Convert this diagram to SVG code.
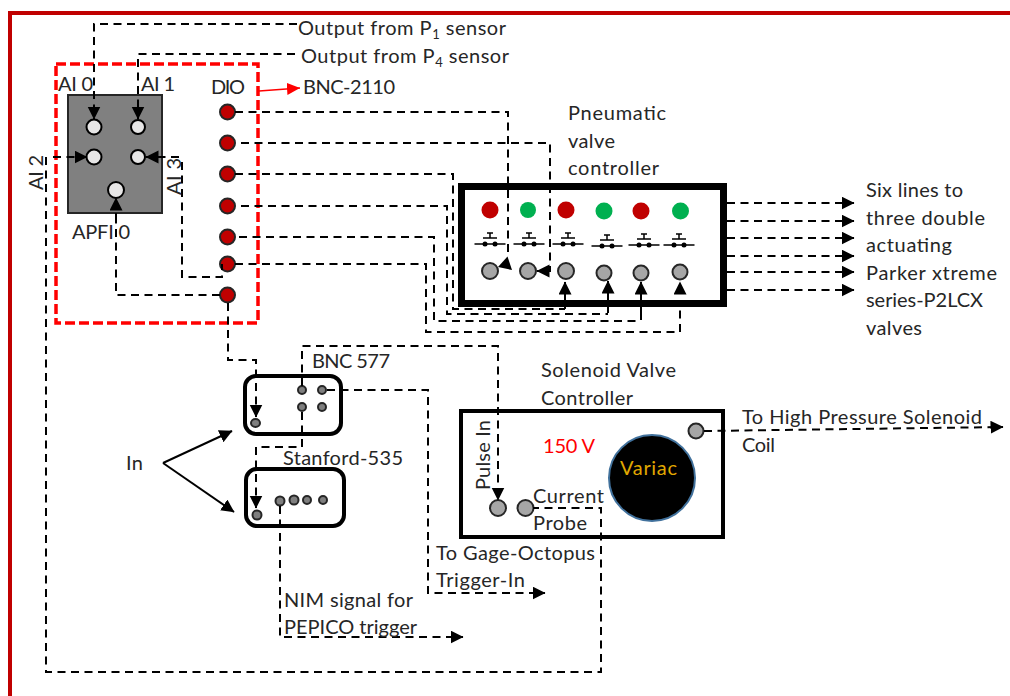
<svg xmlns="http://www.w3.org/2000/svg" width="1010" height="696" viewBox="0 0 1010 696">
<style>
text{font-family:Lato,"Liberation Sans",sans-serif;font-size:20px;fill:#262626}
.c{fill:none;stroke:#000;stroke-width:2;stroke-dasharray:8 5.500}
.a{marker-end:url(#ah)}
.s{fill:none;stroke:#000;stroke-width:2}
.dio{fill:#c00000;stroke:#262626;stroke-width:2}
.pin{fill:#e7e6e6;stroke:#000;stroke-width:2}
.gp{fill:#a6a6a6;stroke:#262626;stroke-width:2}
.sp{fill:#7f7f7f;stroke:#262626;stroke-width:2}
.led1{fill:#c00000}.led2{fill:#00b050}
.box{fill:#fff;stroke:#000}
.sw{fill:none;stroke:#000;stroke-width:1.500}
</style>
<defs>
<marker id="ah" markerUnits="userSpaceOnUse" markerWidth="14" markerHeight="14" refX="12.500" refY="6.500" orient="auto"><path d="M0 0L13 6.500L0 13Z" fill="#000"/></marker>
<marker id="ar" markerUnits="userSpaceOnUse" markerWidth="14" markerHeight="14" refX="13" refY="6" orient="auto"><path d="M0 0L13 6L0 12Z" fill="#f00"/></marker>
<g id="switch"><path class="sw" d="M-15.500 0H15.500M-7 -6H7M-3 -11H3M0 -11V-6"/><circle cx="-5" cy="0" r="2.500"/><circle cx="5" cy="0" r="2.500"/></g>
</defs>
<rect width="1010" height="696" fill="#fff"/>
<path id="border" d="M10 696V13H1010" fill="none" stroke="#c00000" stroke-width="4"/>

<g id="ni-box">
<rect x="68" y="95" width="94" height="118" fill="#808080" stroke="#262626" stroke-width="2"/>
<circle class="pin" cx="94" cy="127" r="7.500"/><circle class="pin" cx="138" cy="127" r="7"/>
<circle class="pin" cx="94" cy="157" r="7.500"/><circle class="pin" cx="138" cy="157" r="7"/>
<circle class="pin" cx="116" cy="190" r="8"/>
</g>
<g id="dio">
<circle class="dio" cx="227.500" cy="112" r="7.500"/><circle class="dio" cx="227.500" cy="143" r="7.500"/>
<circle class="dio" cx="227.500" cy="174" r="7.500"/><circle class="dio" cx="227.500" cy="206" r="7.500"/>
<circle class="dio" cx="227.500" cy="237" r="7.500"/><circle class="dio" cx="227.500" cy="264" r="7.500"/>
<circle class="dio" cx="227.500" cy="295" r="7.500"/>
</g>
<g id="bnc-2110"><rect x="56" y="64" width="202" height="259" fill="none" stroke="#f00" stroke-width="3.500" stroke-dasharray="10 4"/></g>

<g id="pneumatic-controller">
<rect class="box" x="461.500" y="186.500" width="262" height="117" stroke-width="7"/>
<circle class="led1" cx="490" cy="210" r="8.500"/><circle class="led2" cx="528" cy="210" r="8"/>
<circle class="led1" cx="566" cy="210" r="8.500"/><circle class="led2" cx="604" cy="211" r="8.500"/>
<circle class="led1" cx="641" cy="211" r="8.500"/><circle class="led2" cx="680.500" cy="211" r="8.500"/>
<use href="#switch" x="490" y="244"/><use href="#switch" x="529" y="244"/><use href="#switch" x="568" y="244"/>
<use href="#switch" x="607" y="246"/><use href="#switch" x="644" y="245"/><use href="#switch" x="679" y="245"/>
<circle class="gp" cx="490" cy="271" r="8"/><circle class="gp" cx="528" cy="271" r="8"/><circle class="gp" cx="566" cy="271" r="8"/>
<circle class="gp" cx="604" cy="273" r="7.500"/><circle class="gp" cx="641" cy="273" r="7.500"/><circle class="gp" cx="680" cy="272" r="7.500"/>
</g>
<g id="bnc-577">
<rect class="box" x="245" y="376" width="96" height="58" rx="11" stroke-width="4"/>
<circle class="sp" cx="302" cy="390" r="4"/><circle class="sp" cx="322" cy="390" r="4"/>
<circle class="sp" cx="302" cy="407" r="4"/><circle class="sp" cx="322" cy="407" r="4"/>
<ellipse class="sp" cx="255.500" cy="423" rx="4.500" ry="4"/>
</g>
<g id="stanford-535">
<rect class="box" x="246" y="469" width="98" height="57" rx="11" stroke-width="4"/>
<circle class="sp" cx="280" cy="501" r="4.500"/><circle class="sp" cx="294" cy="500" r="4.500"/>
<circle class="sp" cx="307" cy="500" r="4"/><circle class="sp" cx="323" cy="500" r="4"/>
<circle class="sp" cx="257" cy="515" r="4.500"/>
</g>
<g id="solenoid-controller">
<rect class="box" x="461" y="411" width="262" height="126" stroke-width="4"/>
<circle cx="652" cy="478" r="43" fill="#000" stroke="#41719c" stroke-width="2"/>
<circle class="gp" cx="498" cy="508" r="8"/><circle class="gp" cx="525.500" cy="508" r="8"/><circle class="gp" cx="696" cy="431" r="7.500"/>
</g>

<g id="connectors">
<path class="c a" d="M297 24H94V119"/>
<path class="c a" d="M295 54H138V119"/>
<path class="c a" d="M53 157H87"/>
<path class="c a" d="M179 157H146"/>
<path class="c a" d="M116 221V198"/>
<path class="c" d="M46 157V672H601V508H533"/>
<path class="c" d="M182 162V277H222V264"/>
<path class="c" d="M220 295H116V221"/>
<path class="c a" d="M228 303V360H256V417"/>
<path class="c" d="M235 112H508V256"/>
<path d="M507.500 256.500L512 270L498 267Z" fill="#000"/>
<path class="c a" d="M241 143H550V271H537"/>
<path class="c" d="M235 174H453V309H565"/>
<path class="c" d="M241 206H447V314H608"/>
<path class="c" d="M239 237H434V321H641"/>
<path class="c" d="M235 264H426V332H680V300"/>
<path class="s a" d="M565 309V282"/>
<path class="s a" d="M608 313V281"/>
<path class="s a" d="M641 320V282"/>
<path class="a" d="M680 298V282" fill="none" stroke="#000" stroke-width="0"/>
<path class="c a" d="M727 203H854"/>
<path class="c a" d="M727 221H854"/>
<path class="c a" d="M727 238H854"/>
<path class="c a" d="M727 256H854"/>
<path class="c a" d="M727 272H854"/>
<path class="c a" d="M727 290H854"/>
<path class="c a" d="M302 386V346H498V500"/>
<path class="c a" d="M302 412V447H256V508"/>
<path class="c a" d="M327 390H428V593H545"/>
<path class="c a" d="M280 506V637H463"/>
<path class="c a" d="M704 431L1003 427"/>
<path class="s a" d="M163 463L232 431"/>
<path class="s a" d="M163 463L234 512"/>
<path d="M259 91L300 88" stroke="#f00" stroke-width="1.500" fill="none" marker-end="url(#ar)"/>
</g>

<g id="labels">
<text x="298" y="35" letter-spacing=".500">Output from P<tspan font-size="13" dy="4">1</tspan><tspan dy="-4"> sensor</tspan></text>
<text x="301" y="63" letter-spacing=".500">Output from P<tspan font-size="13" dy="4">4</tspan><tspan dy="-4"> sensor</tspan></text>
<text x="58" y="91" textLength="35">AI 0</text><text x="141" y="91" textLength="34">AI 1</text>
<text x="211" y="94" textLength="34">DIO</text><text x="303" y="94" textLength="92">BNC-2110</text>
<text x="72" y="239" textLength="58">APFI 0</text>
<text transform="translate(43 190) rotate(-90)" textLength="35">AI 2</text>
<text transform="translate(181 195) rotate(-90)" textLength="37">AI 3</text>
<text x="568" y="120" textLength="98">Pneumatic</text><text x="568" y="148" textLength="47">valve</text><text x="568" y="175" textLength="91">controller</text>
<text x="866" y="197" textLength="97">Six lines to</text><text x="866" y="225" textLength="119">three double</text><text x="866" y="252" textLength="86">actuating</text>
<text x="866" y="280" textLength="131">Parker xtreme</text><text x="866" y="307" textLength="117">series-P2LCX</text><text x="866" y="335" textLength="56">valves</text>
<text x="312" y="368" textLength="78">BNC 577</text><text x="283" y="465" textLength="120">Stanford-535</text><text x="126" y="470" textLength="17">In</text>
<text x="541" y="377" textLength="135">Solenoid Valve</text><text x="541" y="405" textLength="92">Controller</text>
<text x="543" y="453" textLength="52" style="fill:#f00">150 V</text>
<text x="620" y="475" textLength="57" style="fill:#e0a800">Variac</text>
<text transform="translate(490 490) rotate(-90)" textLength="70">Pulse In</text>
<text x="533" y="503" textLength="71">Current</text><text x="533" y="530" textLength="54">Probe</text>
<text x="436" y="560" textLength="159">To Gage-Octopus</text><text x="436" y="587" textLength="89">Trigger-In</text>
<text x="284" y="607" textLength="129">NIM signal for</text><text x="284" y="634" textLength="133">PEPICO trigger</text>
<text x="742" y="424" textLength="240">To High Pressure Solenoid</text><text x="742" y="452" textLength="33">Coil</text>
</g>
</svg>
